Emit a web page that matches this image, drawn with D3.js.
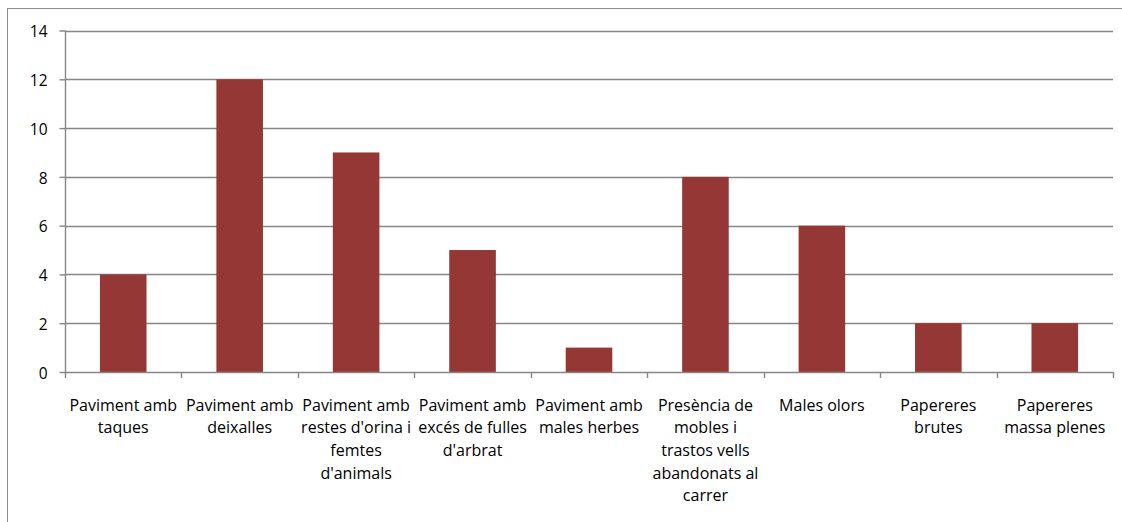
<!DOCTYPE html>
<html>
<head>
<meta charset="utf-8">
<script src="https://cdn.jsdelivr.net/npm/d3@7"></script>
<style>
  html, body { margin: 0; padding: 0; background: #fff; }
  svg { display: block; }
  text { font-family: "Open Sans", "Liberation Sans", sans-serif; fill: #000; }
</style>
</head>
<body>
<svg id="chart" width="1122" height="522"></svg>
<script>
// Incidències observades (nombre de respostes)
const categories = [
  "Paviment amb\ntaques",
  "Paviment amb\ndeixalles",
  "Paviment amb\nrestes d'orina i\nfemtes\nd'animals",
  "Paviment amb\nexcés de fulles\nd'arbrat",
  "Paviment amb\nmales herbes",
  "Presència de\nmobles i\ntrastos vells\nabandonats al\ncarrer",
  "Males olors",
  "Papereres\nbrutes",
  "Papereres\nmassa plenes"
];
const values = [4, 12, 9, 5, 1, 8, 6, 2, 2];
const yTicks = [0, 2, 4, 6, 8, 10, 12, 14];

const svg = d3.select("#chart");

// Outer chart frame (runs off the right and bottom edges)
svg.append("rect")
  .attr("x", 7.5).attr("y", 8.5)
  .attr("width", 1130).attr("height", 530)
  .attr("fill", "none").attr("stroke", "#8c8c8c").attr("stroke-width", 1);

const plot = { left: 65, right: 1113, top: 30.5, bottom: 372 };

const x = d3.scaleBand()
  .domain(categories)
  .range([plot.left, plot.right])
  .paddingInner(0.6).paddingOuter(0.3);

const y = d3.scaleLinear()
  .domain([0, 14])
  .range([plot.bottom, plot.top]);

// Horizontal gridlines
svg.append("g")
  .selectAll("line")
  .data(yTicks.filter(d => d > 0))
  .join("line")
  .attr("x1", plot.left).attr("x2", plot.right)
  .attr("y1", d => Math.round(y(d)) + 0.5).attr("y2", d => Math.round(y(d)) + 0.5)
  .attr("stroke", "#868686").attr("stroke-width", 1.4);

// Bars
svg.append("g")
  .selectAll("rect")
  .data(values)
  .join("rect")
  .attr("x", (d, i) => x(categories[i]))
  .attr("width", x.bandwidth())
  .attr("y", d => y(d))
  .attr("height", d => y(0) - y(d))
  .attr("fill", "#953735");

// Y axis
const yAxis = d3.axisLeft(y)
  .tickValues(yTicks)
  .tickFormat(d3.format("d"))
  .tickSize(6)
  .tickPadding(12);
const gy = svg.append("g")
  .attr("transform", `translate(${plot.left + 0.5},0)`)
  .call(yAxis);
gy.selectAll("path, line").attr("stroke", "#868686").attr("stroke-width", 1.4);
gy.select(".domain").attr("d", `M0,${plot.top}V${plot.bottom}`);
gy.selectAll("text").attr("font-size", 15.5).attr("fill", "#000")
  .attr("dy", "0.4em")
  .style("font-family", '"Open Sans", "Liberation Sans", sans-serif');

// X axis: ticks on the category boundaries
const boundaries = d3.range(categories.length + 1).map(i =>
  plot.left + i * (plot.right - plot.left) / categories.length);
const gx = svg.append("g");
gx.append("line")
  .attr("x1", plot.left).attr("x2", plot.right)
  .attr("y1", plot.bottom + 0.5).attr("y2", plot.bottom + 0.5)
  .attr("stroke", "#868686").attr("stroke-width", 1.4);
gx.selectAll("line.tick")
  .data(boundaries)
  .join("line")
  .attr("class", "tick")
  .attr("x1", d => Math.round(d) + 0.5).attr("x2", d => Math.round(d) + 0.5)
  .attr("y1", plot.bottom).attr("y2", plot.bottom + 6)
  .attr("stroke", "#868686").attr("stroke-width", 1.4);

// Category labels, wrapped over several lines
const labels = svg.append("g")
  .selectAll("text")
  .data(categories)
  .join("text")
  .attr("text-anchor", "middle")
  .attr("font-size", 16)
  .attr("transform", d => `translate(${x(d) + x.bandwidth() / 2},${410.5})`);
labels.each(function(d) {
  const lines = d.split("\n");
  d3.select(this).selectAll("tspan")
    .data(lines)
    .join("tspan")
    .attr("x", 0)
    .attr("y", (l, i) => i * 22.7)
    .text(l => l);
});
</script>
</body>
</html>
